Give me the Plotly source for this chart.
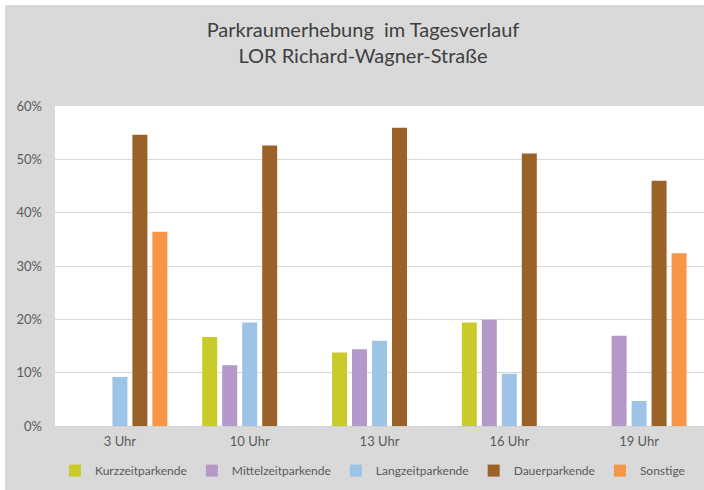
import plotly.graph_objects as go

# Uhrzeiten der Erhebung
zeiten = ["3 Uhr", "10 Uhr", "13 Uhr", "16 Uhr", "19 Uhr"]

# Anteile je Parkergruppe (None = kein Wert)
kurzzeit = [None, 0.167, 0.138, 0.194, None]
mittelzeit = [None, 0.114, 0.144, 0.199, 0.169]
langzeit = [0.092, 0.194, 0.160, 0.098, 0.047]
dauer = [0.546, 0.526, 0.559, 0.511, 0.460]
sonstige = [0.364, None, None, None, 0.324]

serien = [
    ("Kurzzeitparkende", kurzzeit, "#c9cb2b"),
    ("Mittelzeitparkende", mittelzeit, "#b398c9"),
    ("Langzeitparkende", langzeit, "#9dc3e6"),
    ("Dauerparkende", dauer, "#9a6129"),
    ("Sonstige", sonstige, "#f79646"),
]

FONT = "Lato, 'Open Sans', sans-serif"

fig = go.Figure()
for name, werte, farbe in serien:
    fig.add_trace(go.Bar(
        x=zeiten,
        y=werte,
        name=name,
        marker=dict(color=farbe, line=dict(width=0)),
    ))

fig.update_layout(
    width=704,
    height=490,
    barmode="group",
    bargap=0.23,
    bargroupgap=0.25,
    paper_bgcolor="#d9d9d9",
    plot_bgcolor="#ffffff",
    margin=dict(l=55, r=0, t=106, b=64),
    font=dict(family=FONT, size=13, color="#595959"),
    title=dict(
        text="Parkraumerhebung  im Tagesverlauf<br>LOR Richard-Wagner-Straße",
        x=0.5156,
        xanchor="center",
        y=0.9245,
        yanchor="top",
        font=dict(family=FONT, size=20, color="#404040"),
    ),
    xaxis=dict(
        showgrid=False,
        showline=True,
        linecolor="#d0d0d0",
        linewidth=1,
        ticks="",
        ticklabelstandoff=3,
        tickfont=dict(size=13, color="#595959"),
    ),
    yaxis=dict(
        range=[0, 0.6],
        dtick=0.1,
        tickformat=".0%",
        showgrid=True,
        gridcolor="#d9d9d9",
        gridwidth=1,
        zeroline=False,
        showline=False,
        ticks="",
        ticklabelstandoff=12,
        tickfont=dict(size=13, color="#595959"),
    ),
    showlegend=True,
    legend=dict(
        orientation="h",
        x=0.0,
        xanchor="left",
        y=-0.094,
        yanchor="top",
        bgcolor="rgba(0,0,0,0)",
        font=dict(size=12, color="#595959"),
        itemwidth=30,
    ),
)

# thin white border at the top and left edge, as in the source image
fig.add_shape(type="rect", xref="paper", yref="paper",
              x0=-0.1, x1=1.05, y0=(426 - 5) / 320, y1=1.5,
              fillcolor="#ffffff", line=dict(width=0), layer="below")
fig.add_shape(type="rect", xref="paper", yref="paper",
              x0=-0.1, x1=-50 / 649, y0=-0.3, y1=1.5,
              fillcolor="#ffffff", line=dict(width=0), layer="below")

# drop the default 8px body margin so the figure sits at the window origin
fig.write_html("out.html", config={"displayModeBar": False},
               post_script="document.body.style.margin = '0';")
